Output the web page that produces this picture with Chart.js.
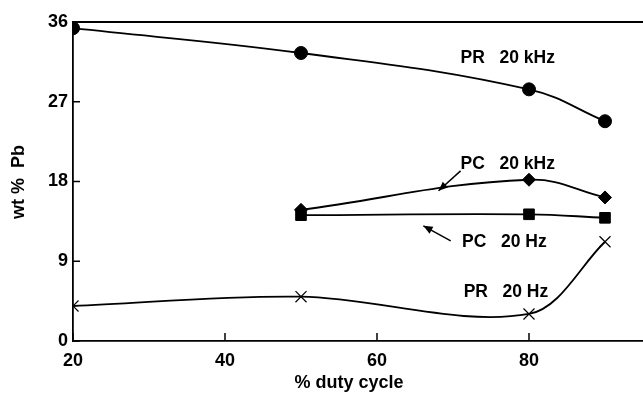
<!DOCTYPE html>
<html>
<head>
<meta charset="utf-8">
<script src="https://cdn.jsdelivr.net/npm/chart.js@4/dist/chart.umd.min.js"></script>
<style>
  html, body { margin: 0; padding: 0; background: #fff; }
  #wrap { width: 643px; height: 396px; }
</style>
</head>
<body>
<div id="wrap"><canvas id="chart" width="643" height="396"></canvas></div>
<script>
// data
const dutyCycle = [20, 50, 80, 90];
const dutyCycleMid = [50, 80, 90];
const prKHz = [35.3, 32.5, 28.4, 24.8];
const pcKHz = [14.8, 18.2, 16.2];
const pcHz = [14.2, 14.3, 13.9];
const prHz = [3.95, 5.0, 3.05, 11.2];
const yTicks = [0, 9, 18, 27, 36];
const xTicks = [20, 40, 60, 80];

// text labels and arrows, in data units
const labels = [
    { text: 'PR   20 kHz', x: 71.0, y: 31.9 },
    { text: 'PC   20 kHz', x: 71.0, y: 19.9 },
    { text: 'PC   20 Hz', x: 71.2, y: 11.2 },
    { text: 'PR   20 Hz', x: 71.4, y: 5.5 }
];
const arrows = [
    { from: [71.0, 19.2], to: [68.1, 16.95] },
    { from: [69.7, 11.3], to: [66.1, 13.0] }
];

const family = '"Liberation Sans", Arial, sans-serif';

function toPts(xs, ys) {
    return xs.map((x, i) => ({ x: x, y: ys[i] }));
}

function series(label, xs, ys, style, radius, tension) {
    return {
        label: label,
        data: toPts(xs, ys),
        borderColor: '#000',
        backgroundColor: '#000',
        borderWidth: 1.8,
        pointStyle: style,
        pointRadius: radius,
        pointBorderWidth: style === 'crossRot' ? 1.2 : 1,
        tension: tension,
        fill: false
    };
}

const decor = {
    id: 'decor',
    afterDraw(chart) {
        const ctx = chart.ctx;
        const xs = chart.scales.x;
        const ys = chart.scales.y;
        const area = chart.chartArea;
        ctx.save();
        ctx.strokeStyle = '#000';
        ctx.lineWidth = 1.8;
        // top frame line
        ctx.beginPath();
        ctx.moveTo(area.left, area.top);
        ctx.lineTo(area.right, area.top);
        ctx.stroke();
        // inward ticks
        ctx.lineWidth = 1.5;
        yTicks.forEach(v => {
            const y = ys.getPixelForValue(v);
            ctx.beginPath();
            ctx.moveTo(area.left, y);
            ctx.lineTo(area.left + 7, y);
            ctx.stroke();
        });
        xTicks.forEach(v => {
            const x = xs.getPixelForValue(v);
            ctx.beginPath();
            ctx.moveTo(x, area.bottom);
            ctx.lineTo(x, area.bottom - 8);
            ctx.stroke();
        });
        // labels
        ctx.fillStyle = '#000';
        ctx.font = 'bold 17.5px ' + family;
        ctx.textBaseline = 'middle';
        ctx.textAlign = 'left';
        labels.forEach(l => {
            ctx.fillText(l.text, xs.getPixelForValue(l.x), ys.getPixelForValue(l.y));
        });
        // arrows
        ctx.lineWidth = 1.5;
        arrows.forEach(a => {
            const x0 = xs.getPixelForValue(a.from[0]), y0 = ys.getPixelForValue(a.from[1]);
            const x1 = xs.getPixelForValue(a.to[0]), y1 = ys.getPixelForValue(a.to[1]);
            const ang = Math.atan2(y1 - y0, x1 - x0);
            ctx.beginPath();
            ctx.moveTo(x0, y0);
            ctx.lineTo(x1, y1);
            ctx.stroke();
            ctx.beginPath();
            ctx.moveTo(x1, y1);
            ctx.lineTo(x1 - 10 * Math.cos(ang - 0.4), y1 - 10 * Math.sin(ang - 0.4));
            ctx.lineTo(x1 - 10 * Math.cos(ang + 0.4), y1 - 10 * Math.sin(ang + 0.4));
            ctx.closePath();
            ctx.fill();
        });
        // axis titles
        ctx.font = 'bold 18px ' + family;
        ctx.textAlign = 'center';
        ctx.fillText('% duty cycle', 349, 383);
        ctx.translate(19, 182);
        ctx.rotate(-Math.PI / 2);
        ctx.fillText('wt %  Pb', 0, 0);
        ctx.restore();
    }
};

new Chart(document.getElementById('chart').getContext('2d'), {
    type: 'line',
    data: {
        datasets: [
            series('PR 20 kHz', dutyCycle, prKHz, 'circle', 6.5, 0.4),
            series('PC 20 kHz', dutyCycleMid, pcKHz, 'rectRot', 6.5, 0.4),
            series('PC 20 Hz', dutyCycleMid, pcHz, 'rect', 7.5, 0.4),
            series('PR 20 Hz', dutyCycle, prHz, 'crossRot', 7.8, 0.33)
        ]
    },
    options: {
        responsive: false,
        animation: false,
        layout: { autoPadding: false, padding: { top: 22, right: 0, left: 0, bottom: 0 } },
        plugins: {
            legend: { display: false },
            tooltip: { enabled: false }
        },
        scales: {
            x: {
                type: 'linear',
                min: 20,
                max: 95,
                afterFit: s => { s.height = 55; s.paddingRight = 0; },
                afterBuildTicks: s => { s.ticks = xTicks.map(v => ({ value: v })); },
                grid: { drawOnChartArea: false, drawTicks: false },
                border: { display: true, color: '#000', width: 1.8 },
                ticks: {
                    color: '#000',
                    padding: 9,
                    font: { family: family, size: 18, weight: 'bold' }
                }
            },
            y: {
                min: 0,
                max: 36,
                afterFit: s => { s.width = 73; },
                afterBuildTicks: s => { s.ticks = yTicks.map(v => ({ value: v })); },
                grid: { drawOnChartArea: false, drawTicks: false },
                border: { display: true, color: '#000', width: 1.8 },
                ticks: {
                    color: '#000',
                    padding: 5,
                    font: { family: family, size: 18, weight: 'bold' }
                }
            }
        }
    },
    plugins: [decor]
});
</script>
</body>
</html>
